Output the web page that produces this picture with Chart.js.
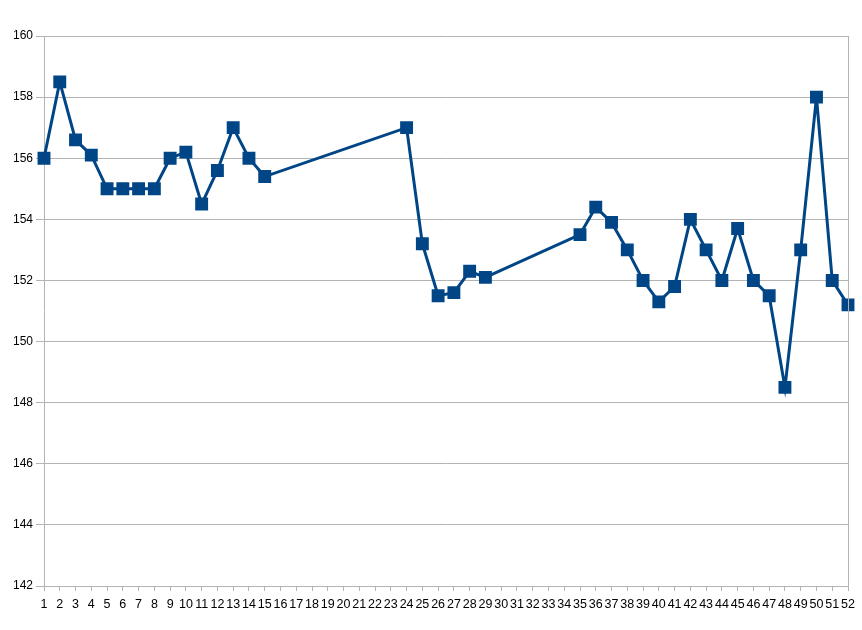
<!DOCTYPE html>
<html><head><meta charset="utf-8">
<script src="https://cdn.jsdelivr.net/npm/chart.js@4/dist/chart.umd.min.js"></script>
<style>html,body{margin:0;padding:0;background:#fff}#wrap{width:862px;height:630px}</style>
</head><body><div id="wrap"><canvas id="c" width="862" height="630"></canvas></div>
<script>
const categories = Array.from({length:52},(_,i)=>String(i+1));
const values = [156,158.5,156.6,156.1,155,155,155,155,156,156.2,154.5,155.6,157,156,155.4,
null,null,null,null,null,null,null,null,
157,153.2,151.5,151.6,152.3,152.1,
null,null,null,null,null,
153.5,154.4,153.9,153,152,151.3,151.8,154,153,152,153.7,152,151.5,148.5,153,158,152,151.2];
const yTicks = {min:142,max:160,step:2};

const rightBorder = {id:'rb',afterDraw(ch){const a=ch.chartArea,c=ch.ctx;c.save();c.strokeStyle='#b3b3b3';c.lineWidth=1;c.beginPath();c.moveTo(Math.round(a.right)+0.5,a.top);c.lineTo(Math.round(a.right)+0.5,a.bottom+5);c.stroke();c.restore();}};

new Chart(document.getElementById('c'),{
type:'line',
data:{labels:categories,datasets:[{data:values,borderColor:'#004586',backgroundColor:'#004586',borderWidth:3,pointStyle:'rect',pointRadius:7,pointHoverRadius:7,spanGaps:true,tension:0}]},
options:{responsive:false,animation:false,
layout:{padding:{left:0,right:14,top:36,bottom:0}},
plugins:{legend:{display:false},tooltip:{enabled:false}},
scales:{
x:{offset:false,grid:{display:true,drawOnChartArea:false,drawTicks:true,tickLength:5,color:'#b3b3b3'},border:{color:'#b3b3b3'},
ticks:{autoSkip:false,maxRotation:0,minRotation:0,color:'#000',padding:6,font:{family:'Liberation Sans',size:12.5}},
afterFit(s){s.height=44;}},
y:{min:yTicks.min,max:yTicks.max,ticks:{stepSize:yTicks.step,color:'#000',padding:3,font:{family:'Liberation Sans',size:12}},
grid:{color:'#b3b3b3',tickLength:8},border:{color:'#b3b3b3'},afterFit(s){s.width=44;}}
}},
plugins:[rightBorder]
});
</script></body></html>
